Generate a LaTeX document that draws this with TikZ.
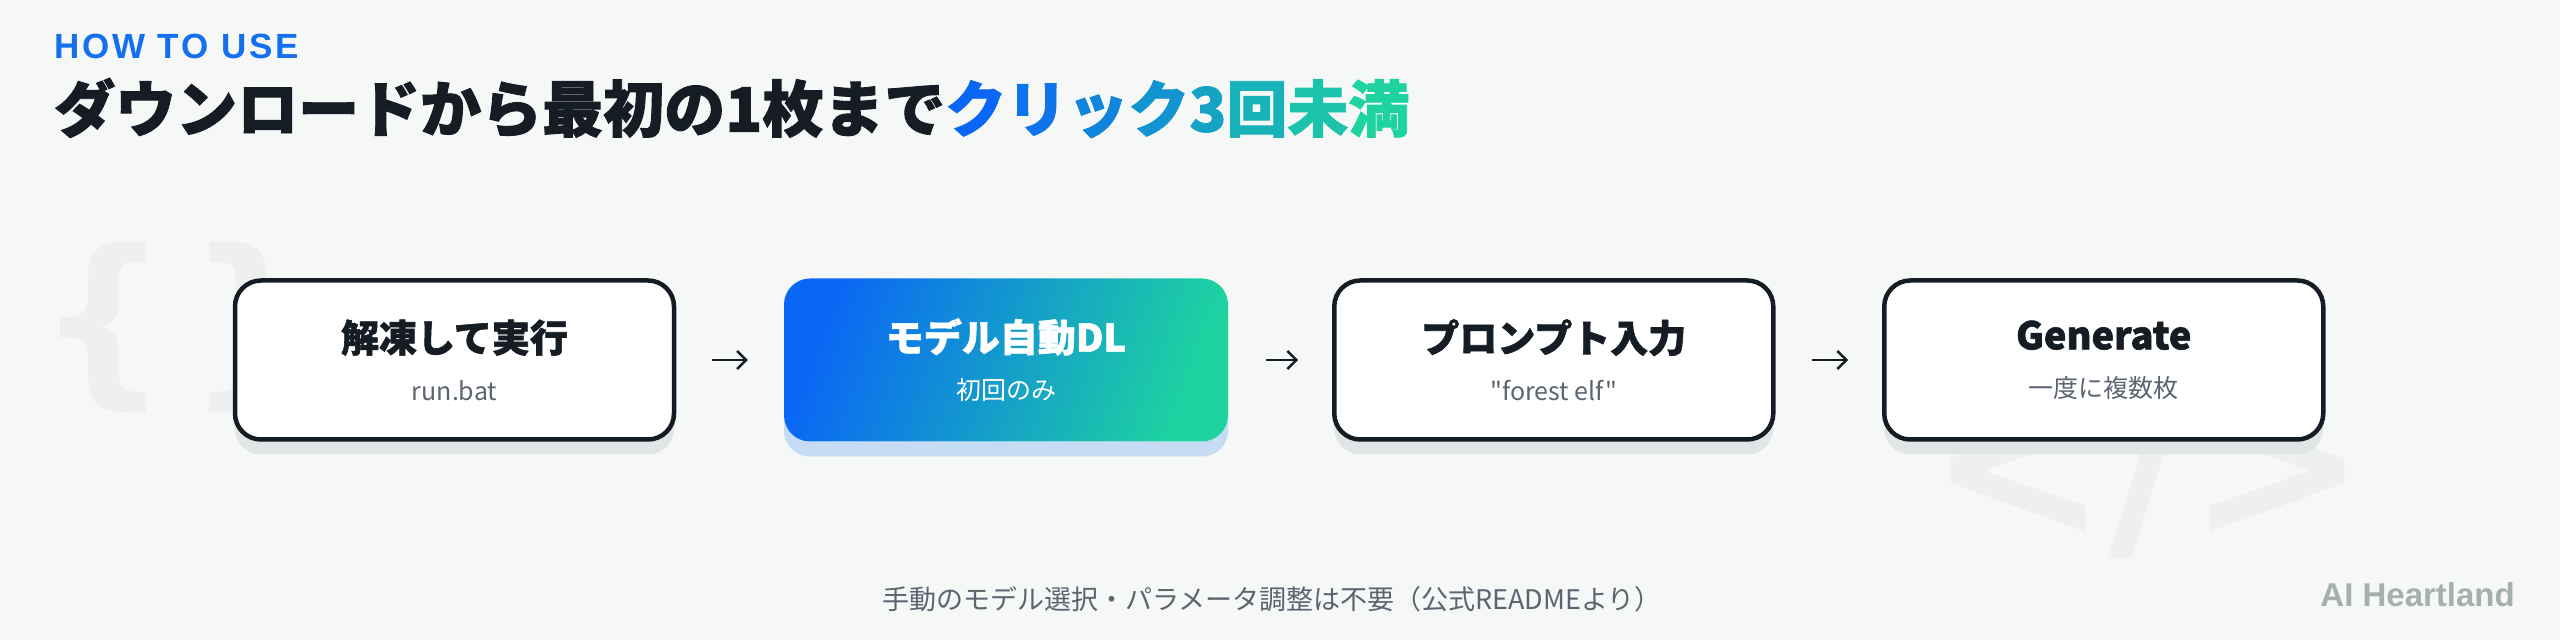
\documentclass[tikz,border=0pt]{standalone}
\usepackage{fontspec}
\usetikzlibrary{positioning,arrows.meta,shadows}

\setmainfont{Noto Sans CJK JP}
\newfontfamily\heavyfont[BoldFeatures={FakeBold=1.5}]{Noto Sans CJK JP}
\newfontfamily\quotefont[Ligatures=TeXOff]{Noto Sans CJK JP}
\newfontfamily\headfont[LetterSpace=8]{Liberation Sans}
\newfontfamily\brandfont{Liberation Sans}
\newfontfamily\markfont{DejaVu Sans}

\definecolor{bgcol}{HTML}{F6F8F7}
\definecolor{inkdark}{HTML}{161C24}
\definecolor{subgray}{HTML}{5C6470}
\definecolor{gradblue}{HTML}{0A66F5}
\definecolor{gradteal}{HTML}{1ED3A0}
\definecolor{headblue}{HTML}{1570EE}
\definecolor{shadowgray}{HTML}{E1E5E6}
\definecolor{shadowblue}{HTML}{C5DCF4}
\definecolor{markgray}{HTML}{EEF0F0}
\definecolor{brandgray}{HTML}{A4B0AC}

\newcommand{\titlesize}{\heavyfont\bfseries\fontsize{38}{46}\selectfont}
\newcommand{\subsize}{\fontsize{25}{30}\selectfont}
\newcommand{\gradword}{%
  \textcolor{gradblue}{ク}\textcolor{gradblue!86!gradteal}{リ}%
  \textcolor{gradblue!72!gradteal}{ッ}\textcolor{gradblue!58!gradteal}{ク}%
  \textcolor{gradblue!44!gradteal}{3}\textcolor{gradblue!30!gradteal}{回}%
  \textcolor{gradblue!15!gradteal}{未}\textcolor{gradteal}{満}}

\tikzset{
  stepbox/.style={draw=inkdark, line width=4.5pt, fill=white, rounded corners=26pt,
    minimum width=439pt, minimum height=159pt, align=center, text=inkdark,
    font=\subsize,
    drop shadow={shadow xshift=0pt, shadow yshift=-15pt, opacity=1, fill=shadowgray}},
  hotbox/.style={stepbox, draw=none, left color=gradblue, right color=gradteal,
    shading angle=70, minimum width=444pt, minimum height=163pt, text=white,
    drop shadow={shadow xshift=0pt, shadow yshift=-15pt, opacity=1, fill=shadowblue}},
  flowarrow/.style={line width=2.4pt, draw=inkdark,
    -{Straight Barb[length=9pt,width=18pt]}, shorten <=36pt, shorten >=34pt},
}

\begin{document}
\begin{tikzpicture}[x=1pt, y=1pt]
    \fill[bgcol] (0,0) rectangle (2560,640);
    \useasboundingbox (0,0) rectangle (2560,640);

    % faint marks behind the steps
    \node[text=markgray, font=\markfont\bfseries\fontsize{185}{185}\selectfont] (braces) at (178,313) {\{\hspace{18pt}\}};
    \node[text=markgray, font=\markfont\bfseries\fontsize{215}{215}\selectfont] (tagmark) at (2148,170) {</>};

    \node[anchor=west, inner sep=0, text=headblue, font=\headfont\bfseries\fontsize{35}{40}\selectfont] (howto) at (54,594) {HOW TO USE};
    \node[anchor=west, inner sep=0, text=inkdark, font=\heavyfont\bfseries\fontsize{61}{72}\selectfont] (headline) at (54,532) {ダウンロードから最初の1枚まで\gradword};

    \node[stepbox] (unzip) at (454.5,280) {{\titlesize 解凍して実行}\\[18pt]{\color{subgray}run.bat}};
    \node[hotbox, right=105.5pt of unzip] (modeldl) {{\titlesize モデル自動DL}\\[18pt]初回のみ};
    \node[stepbox, right=101.75pt of modeldl] (prompt) {{\titlesize プロンプト入力}\\[18pt]{\color{subgray}\quotefont "forest elf"}};
    \node[stepbox, right=106.5pt of prompt] (generate) {{\titlesize Generate}\\[18pt]{\color{subgray}一度に複数枚}};

    \draw[flowarrow] (unzip.east) -- (modeldl.west);
    \draw[flowarrow] (modeldl.east) -- (prompt.west);
    \draw[flowarrow] (prompt.east) -- (generate.west);

    \node[text=subgray, font=\fontsize{27}{32}\selectfont] (note) at (1272,41) {手動のモデル選択・パラメータ調整は不要（公式READMEより）};
    \node[anchor=base east, inner sep=0, text=brandgray, font=\brandfont\bfseries\fontsize{33}{36}\selectfont] (brand) at (2515,33) {AI Heartland};
  \end{tikzpicture}
\end{document}
